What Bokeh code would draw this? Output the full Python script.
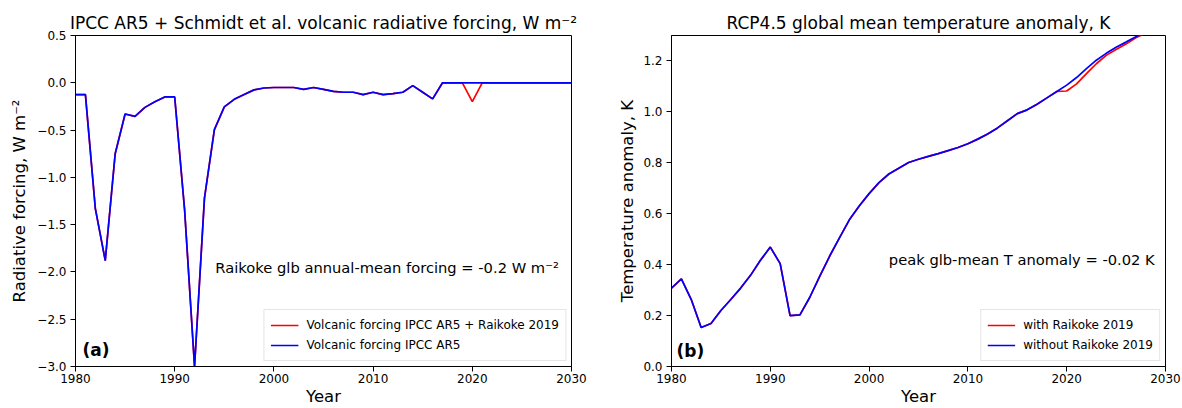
from bokeh.plotting import figure
from bokeh.layouts import row
from bokeh.models import Range1d, FixedTicker, CustomJSTickFormatter, Label, Legend, LegendItem
from bokeh.embed import file_html
from bokeh.resources import INLINE

# ---------------- data ----------------
years = list(range(1980, 2031))

forcing_ar5 = [
    -0.125, -0.125, -1.33, -1.88, -0.75, -0.33, -0.355, -0.26, -0.20, -0.15,
    -0.15, -1.345, -3.00, -1.22, -0.495, -0.255, -0.175, -0.125, -0.075, -0.055,
    -0.05, -0.05, -0.05, -0.07, -0.05, -0.07, -0.09, -0.10, -0.10, -0.125,
    -0.10, -0.125, -0.115, -0.10, -0.03, -0.10, -0.17, 0.0, 0.0, 0.0,
    0.0, 0.0, 0.0, 0.0, 0.0, 0.0, 0.0, 0.0, 0.0, 0.0, 0.0,
]
forcing_raikoke = [
    -0.125, -0.125, -1.33, -1.88, -0.75, -0.33, -0.355, -0.26, -0.20, -0.15,
    -0.15, -1.345, -3.00, -1.22, -0.495, -0.255, -0.175, -0.125, -0.075, -0.055,
    -0.05, -0.05, -0.05, -0.07, -0.05, -0.07, -0.09, -0.10, -0.10, -0.125,
    -0.10, -0.125, -0.115, -0.10, -0.03, -0.10, -0.17, 0.0, 0.0, 0.0,
    -0.20, 0.0, 0.0, 0.0, 0.0, 0.0, 0.0, 0.0, 0.0, 0.0, 0.0,
]

temp_without = [
    0.308, 0.344, 0.263, 0.153, 0.169, 0.220, 0.263, 0.308, 0.358, 0.417,
    0.469, 0.404, 0.200, 0.203, 0.272, 0.354, 0.433, 0.505, 0.576, 0.630,
    0.679, 0.722, 0.756, 0.779, 0.801, 0.814, 0.825, 0.836, 0.848, 0.860,
    0.875, 0.893, 0.913, 0.937, 0.965, 0.993, 1.008, 1.030, 1.055, 1.080,
    1.105, 1.135, 1.170, 1.203, 1.230, 1.254, 1.274, 1.295, 1.315, 1.335, 1.355,
]
temp_with = [
    0.308, 0.344, 0.263, 0.153, 0.169, 0.220, 0.263, 0.308, 0.358, 0.417,
    0.469, 0.404, 0.200, 0.203, 0.272, 0.354, 0.433, 0.505, 0.576, 0.630,
    0.679, 0.722, 0.756, 0.779, 0.801, 0.814, 0.825, 0.836, 0.848, 0.860,
    0.875, 0.893, 0.913, 0.937, 0.965, 0.993, 1.008, 1.030, 1.055, 1.080,
    1.082, 1.110, 1.150, 1.189, 1.222, 1.245, 1.267, 1.291, 1.310, 1.330, 1.350,
]

x_ticks = [1980, 1990, 2000, 2010, 2020, 2030]
forcing_ticks = [0.5, 0.0, -0.5, -1.0, -1.5, -2.0, -2.5, -3.0]
temp_ticks = [0.0, 0.2, 0.4, 0.6, 0.8, 1.0, 1.2]

FONT = "DejaVu Sans"
fmt1 = CustomJSTickFormatter(code="return tick.toFixed(1).replace('-', '\u2212');")


def style(p, xlabel, ylabel, yticks, ylabel_standoff):
    p.toolbar.logo = None
    p.xgrid.visible = False
    p.ygrid.visible = False
    p.outline_line_color = "black"
    p.outline_line_alpha = 1.0
    p.outline_line_width = 1
    p.background_fill_color = "white"
    p.border_fill_color = "white"
    p.title.text_font = FONT
    p.title.text_font_size = "17px"
    p.title.text_font_style = "normal"
    p.title.text_color = "black"
    p.title.align = "center"
    p.title.standoff = 6
    p.xaxis.ticker = FixedTicker(ticks=x_ticks)
    p.yaxis.ticker = FixedTicker(ticks=yticks)
    p.yaxis.formatter = fmt1
    for ax in (p.xaxis[0], p.yaxis[0]):
        ax.axis_line_color = "black"
        ax.major_tick_line_color = "black"
        ax.minor_tick_line_color = None
        ax.major_tick_out = 5
        ax.major_tick_in = 0
        ax.major_label_text_font = FONT
        ax.major_label_text_font_size = "12px"
        ax.major_label_text_color = "black"
        ax.axis_label_text_font = FONT
        ax.axis_label_text_font_size = "16.5px"
        ax.axis_label_text_font_style = "normal"
        ax.axis_label_text_color = "black"
    p.xaxis.axis_label = xlabel
    p.yaxis.axis_label = ylabel
    p.xaxis.major_label_standoff = 2
    p.xaxis.axis_label_standoff = 1
    p.yaxis.major_label_standoff = 4
    p.yaxis.axis_label_standoff = ylabel_standoff


def add_legend(p, items):
    leg = Legend(items=items, location="bottom_right")
    leg.label_text_font = FONT
    leg.label_text_font_size = "12px"
    leg.label_text_color = "black"
    leg.border_line_color = "#cccccc"
    leg.border_line_width = 1
    leg.background_fill_alpha = 0.8
    leg.glyph_width = 28
    leg.glyph_height = 18
    leg.label_height = 18
    leg.label_standoff = 8
    leg.spacing = 2
    leg.padding = 6
    leg.margin = 5
    p.add_layout(leg)


H = 408

# ---------------- left panel ----------------
p1 = figure(width=606, height=H, output_backend="svg", toolbar_location=None,
            x_range=Range1d(1980, 2030), y_range=Range1d(-3.0, 0.5),
            title="IPCC AR5 + Schmidt et al. volcanic radiative forcing, W m\u207b\u00b2",
            min_border_left=75, min_border_right=35, min_border_top=35, min_border_bottom=41)
style(p1, "Year", "Radiative forcing, W m\u207b\u00b2", forcing_ticks, 5)
r1 = p1.line(years, forcing_raikoke, line_color="red", line_width=1.7)
r2 = p1.line(years, forcing_ar5, line_color="blue", line_width=1.7)
add_legend(p1, [LegendItem(label="Volcanic forcing IPCC AR5 + Raikoke 2019", renderers=[r1]),
                LegendItem(label="Volcanic forcing IPCC AR5", renderers=[r2])])
p1.add_layout(Label(x=1994.1, y=-1.95, text="Raikoke glb annual-mean forcing = -0.2 W m\u207b\u00b2",
                    text_font=FONT, text_font_size="14.7px", text_color="black",
                    text_baseline="middle", text_align="left"))
p1.add_layout(Label(x=1980.7, y=-2.83, text="(a)", text_font=FONT, text_font_size="17px",
                    text_color="black", text_font_style="bold",
                    text_baseline="middle", text_align="left"))

# ---------------- right panel ----------------
p2 = figure(width=576, height=H, output_backend="svg", toolbar_location=None,
            x_range=Range1d(1980, 2030), y_range=Range1d(0.0, 1.3),
            title="RCP4.5 global mean temperature anomaly, K",
            min_border_left=65, min_border_right=17, min_border_top=35, min_border_bottom=41)
style(p2, "Year", "Temperature anomaly, K", temp_ticks, 3)
r3 = p2.line(years, temp_with, line_color="red", line_width=1.7)
r4 = p2.line(years, temp_without, line_color="blue", line_width=1.7)
add_legend(p2, [LegendItem(label="with Raikoke 2019", renderers=[r3]),
                LegendItem(label="without Raikoke 2019", renderers=[r4])])
p2.add_layout(Label(x=2002.0, y=0.42, text="peak glb-mean T anomaly = -0.02 K",
                    text_font=FONT, text_font_size="14.7px", text_color="black",
                    text_baseline="middle", text_align="left"))
p2.add_layout(Label(x=1980.5, y=0.061, text="(b)", text_font=FONT, text_font_size="17px",
                    text_color="black", text_font_style="bold",
                    text_baseline="middle", text_align="left"))

layout = row(p1, p2)
open("out.html", "w").write(file_html(layout, INLINE))
